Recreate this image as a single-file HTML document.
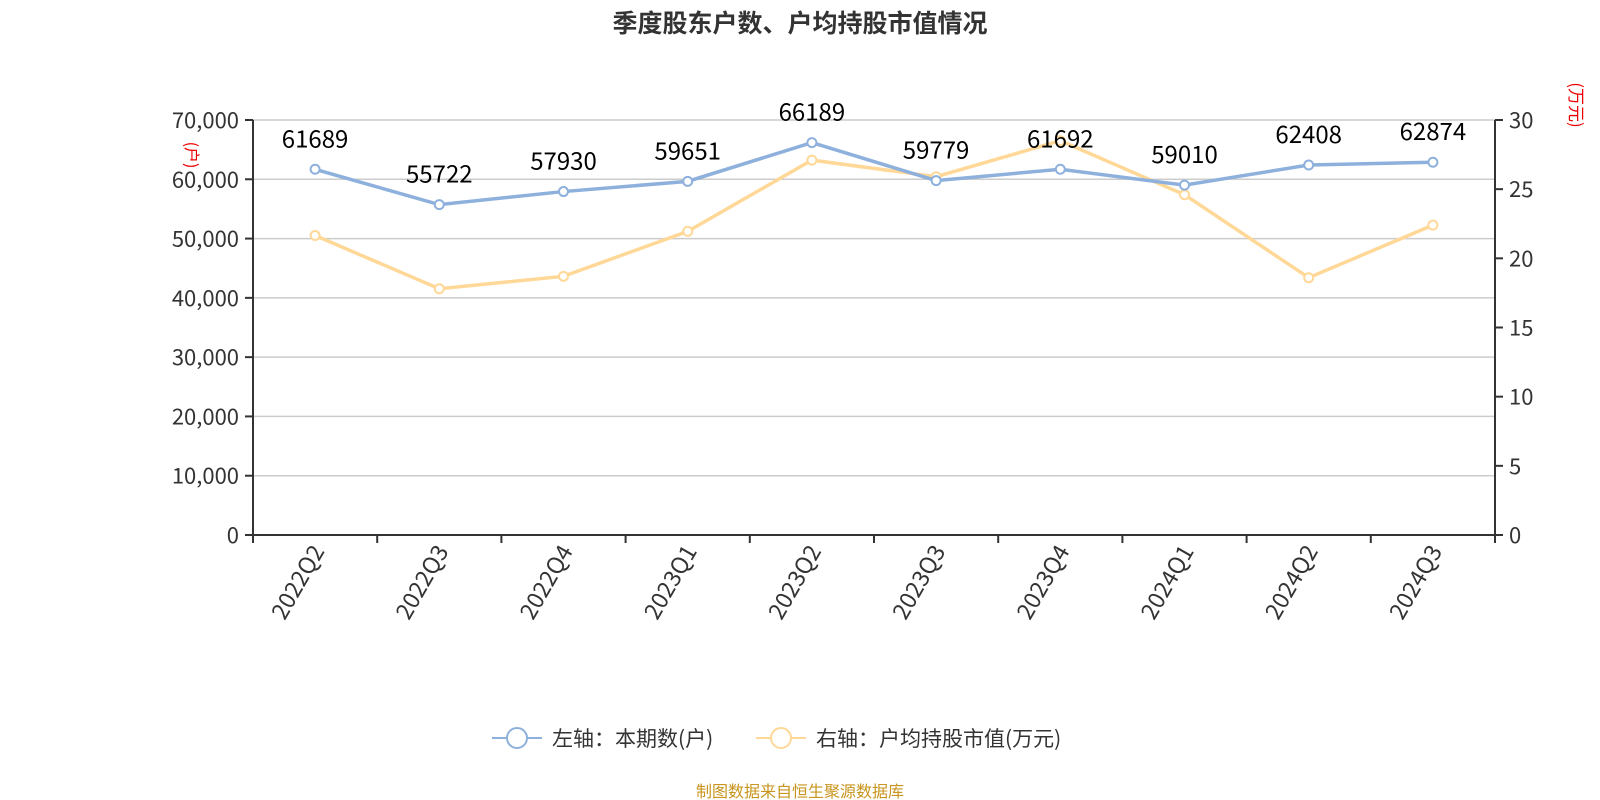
<!DOCTYPE html>
<html><head><meta charset="utf-8">
<style>
body{margin:0;background:#fff;}
svg{display:block;font-family:"Noto Sans CJK SC","Liberation Sans",sans-serif;}
</style></head><body>
<svg id="chart" width="1600" height="800" viewBox="0 0 1600 800" xmlns="http://www.w3.org/2000/svg">
<text x="800" y="32" text-anchor="middle" font-size="25" font-weight="bold" fill="#333">季度股东户数、户均持股市值情况</text>
<g id="grid"></g><g id="axes"></g><g id="series"></g>
<text transform="translate(186,155) rotate(90)" text-anchor="middle" font-size="16" fill="#e00">(户)</text>
<text transform="translate(1570,105) rotate(90)" text-anchor="middle" font-size="17" fill="#e00">(万元)</text>
<g>
<g>
<line x1="492" y1="738" x2="542" y2="738" stroke="#8eb0dc" stroke-width="2"/>
<circle cx="517" cy="738" r="10" fill="#fff" stroke="#8eb0dc" stroke-width="2"/>
<text x="552" y="746" font-size="21" fill="#333">左轴：本期数(户)</text></g>
<g>
<line x1="756" y1="738" x2="806" y2="738" stroke="#ffd898" stroke-width="2"/>
<circle cx="781" cy="738" r="10" fill="#fff" stroke="#ffd898" stroke-width="2"/>
<text x="816" y="746" font-size="21" fill="#333">右轴：户均持股市值(万元)</text></g>
</g>
<text x="800" y="797" text-anchor="middle" font-size="16" fill="#c8951e">制图数据来自恒生聚源数据库</text>
</svg>
<script>
const categories=["2022Q2","2022Q3","2022Q4","2023Q1","2023Q2","2023Q3","2023Q4","2024Q1","2024Q2","2024Q3"];
const holders=[61689,55722,57930,59651,66189,59779,61692,59010,62408,62874];
const avgValue=[21.65,17.8,18.7,21.95,27.1,25.9,28.5,24.6,18.6,22.4];
const leftTicks=[0,10000,20000,30000,40000,50000,60000,70000];
const rightTicks=[0,5,10,15,20,25,30];
const NS="http://www.w3.org/2000/svg";
const L=253,R=1495,T=120,B=535;
const bw=(R-L)/categories.length;
const xPos=i=>L+bw*(i+0.5);
const yL=v=>B-(v/70000)*(B-T);
const yR=v=>B-(v/30)*(B-T);
function mk(tag,attrs,parent){const e=document.createElementNS(NS,tag);for(const k in attrs)e.setAttribute(k,attrs[k]);parent.appendChild(e);return e;}
const grid=document.getElementById('grid'),axes=document.getElementById('axes'),ser=document.getElementById('series');
leftTicks.forEach(v=>{
 const y=yL(v);
 if(v>0){const g=mk('line',{x1:L,x2:R,y1:y,y2:y,stroke:'#ccc','stroke-width':1.5},grid);
 
 }
 mk('line',{x1:L-8,x2:L,y1:y,y2:y,stroke:'#333','stroke-width':2},axes);
 const t=mk('text',{x:L-14,y:y+8,'text-anchor':'end','font-size':22,fill:'#333'},axes);
 t.textContent=v.toLocaleString('en-US');
 
 
});
rightTicks.forEach(v=>{
 const y=yR(v);
 mk('line',{x1:R,x2:R+8,y1:y,y2:y,stroke:'#333','stroke-width':2},axes);
 const t=mk('text',{x:R+14,y:y+8,'font-size':22,fill:'#333'},axes);
 t.textContent=v;
 
 
});
const la=mk('line',{x1:L,x2:L,y1:T,y2:B+8,stroke:'#333','stroke-width':2},axes);


const ra=mk('line',{x1:R,x2:R,y1:T,y2:B+8,stroke:'#333','stroke-width':2},axes);


const xa=mk('line',{x1:L,x2:R,y1:B,y2:B,stroke:'#333','stroke-width':2},axes);


for(let i=0;i<=categories.length;i++){const x=L+bw*i;mk('line',{x1:x,x2:x,y1:B,y2:B+8,stroke:'#333','stroke-width':2},axes);}
categories.forEach((c,i)=>{
 const x=xPos(i);
 const t=mk('text',{transform:`translate(${x+10},${B+16}) rotate(-60)`,'text-anchor':'end','font-size':23,fill:'#333'},axes);
 t.textContent=c;
 
 
});
function drawLine(vals,yf,color,name,labels){
 const pts=vals.map((v,i)=>xPos(i)+','+yf(v)).join(' ');
 const pl=mk('polyline',{points:pts,fill:'none',stroke:color,'stroke-width':3.5},ser);
 
 
 vals.forEach((v,i)=>{
  const c=mk('circle',{cx:xPos(i),cy:yf(v),r:4.5,fill:'#fff',stroke:color,'stroke-width':2},ser);
  
  
  if(labels){
   const t=mk('text',{x:xPos(i),y:yf(v)-22,'text-anchor':'middle','font-size':24,fill:'#000'},ser);
   t.textContent=v;
   
   
  }
 });
}
drawLine(avgValue,yR,'#ffd898','avg-value',false);
drawLine(holders,yL,'#8eb0dc','holders',true);
</script>
</body></html>
